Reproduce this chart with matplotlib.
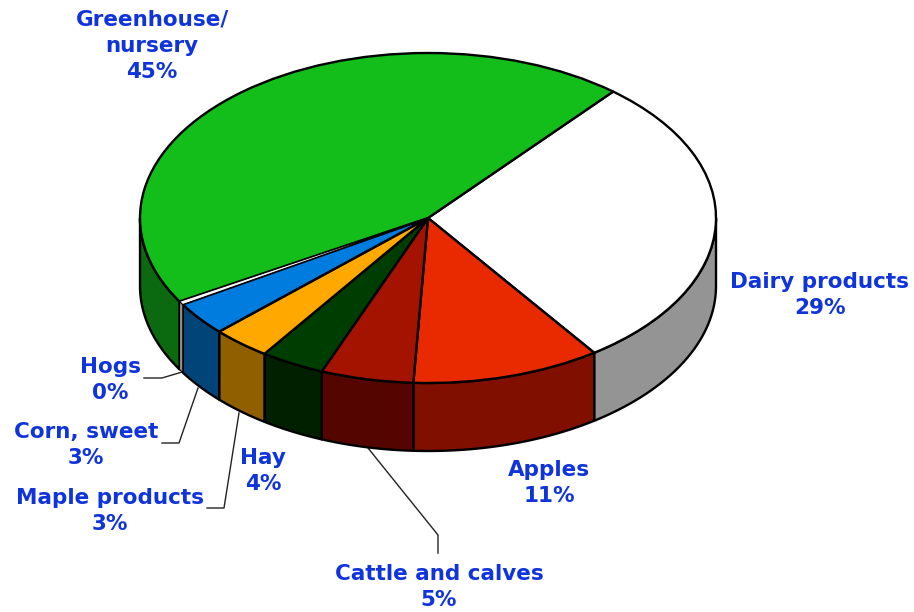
import matplotlib
matplotlib.use("Agg")
import matplotlib.pyplot as plt
import numpy as np
from matplotlib.patches import Polygon

# =========================
# Data
# =========================
categories = ["Dairy products", "Apples", "Cattle and calves", "Hay",
              "Maple products", "Corn, sweet", "Hogs", "Greenhouse/\nnursery"]
shares = [29.1, 10.6, 5.2, 3.6, 3.3, 3.3, 0.35, 44.55]

top_colors = ["#FFFFFF", "#E92900", "#A31300", "#003D00",
              "#FFA800", "#007BDE", "#FFFFFF", "#14BE1A"]
side_colors = ["#949494", "#800F00", "#550500", "#002000",
               "#8F5F00", "#004478", "#949494", "#0B690F"]

# label centres, in image pixels
label_x = [820, 549, 439, 263, 110, 86, 110, 152]
label_y = [295, 483, 587, 471, 511, 445, 380, 46]

# leader lines, in image pixels
leaders = [
    ([144, 162, 182], [378, 378, 372]),
    ([162, 179, 198], [443, 443, 388]),
    ([207, 224, 239], [508, 508, 413]),
    ([438, 438, 368], [553, 535, 448]),
]

# =========================
# Geometry of the tilted pie
# =========================
W, H = 914, 612
cx, cy = 428, 218
rx, ry = 288, 165
depth = 68 / ry


def to_data(x, y):
    return (np.asarray(x, dtype=float) - cx) / rx, (cy - np.asarray(y, dtype=float)) / ry


fig = plt.figure(figsize=(W / 100, H / 100), dpi=100)
ax = fig.add_axes([0, 0, 1, 1])

wedges, _ = ax.pie(shares, colors=top_colors, startangle=50, counterclock=False,
                   wedgeprops=dict(edgecolor="black", linewidth=1.7, zorder=3))
# the Hogs sliver would vanish under a full-weight outline
wedges[6].set_linewidth(0.8)
wedges[6].set_zorder(4)
ax.set_aspect("auto")
ax.set_xlim(-cx / rx, (W - cx) / rx)
ax.set_ylim((cy - H) / ry, cy / ry)
ax.axis("off")

# =========================
# Side walls: only the part of each slice on the front half shows
# =========================
for wedge, color in zip(wedges, side_colors):
    t1, t2 = wedge.theta1, wedge.theta2
    for low, high in [(-180, 0), (-540, -360), (180, 360)]:
        a = max(t1, low)
        b = min(t2, high)
        if a >= b:
            continue
        t = np.radians(np.linspace(a, b, 80))
        xs = np.cos(t)
        ys = np.sin(t)
        pts = np.column_stack([np.r_[xs, xs[::-1]], np.r_[ys, ys[::-1] - depth]])
        ax.add_patch(Polygon(pts, closed=True, facecolor=color, edgecolor="black",
                             linewidth=wedge.get_linewidth(), joinstyle="round",
                             zorder=wedge.get_zorder() - 1 if wedge is wedges[6] else 2))

for lx, ly in leaders:
    dx, dy = to_data(lx, ly)
    ax.plot(dx, dy, color="#222222", linewidth=1, zorder=1)

# =========================
# Labels
# =========================
for name, share, x, y in zip(categories, shares, label_x, label_y):
    dx, dy = to_data(x, y)
    ax.text(dx, dy, f"{name}\n{round(share)}%", ha="center", va="center",
            color="#1034DC", fontsize=15.5, fontweight="bold", family="DejaVu Sans",
            linespacing=1.38, zorder=5)

fig.savefig("out.png", dpi=100, facecolor="white")
